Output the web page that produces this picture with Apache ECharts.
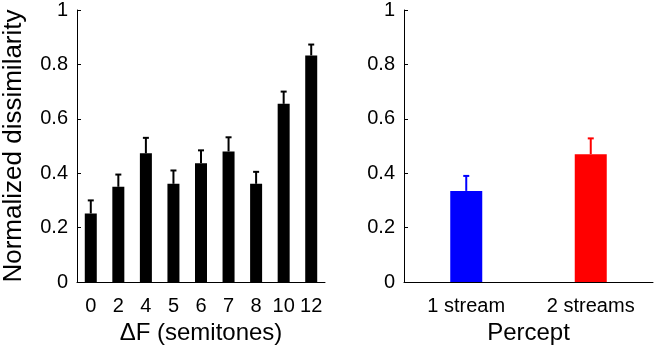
<!DOCTYPE html>
<html>
<head>
<meta charset="utf-8">
<script src="https://cdn.jsdelivr.net/npm/echarts@6/dist/echarts.min.js"></script>
<style>
  html, body { margin: 0; padding: 0; background: #fff; }
  #chart { width: 654px; height: 351px; }
</style>
</head>
<body>
<div id="chart"></div>
<script>
// left panel: dissimilarity per frequency separation
const semitones = ['0', '2', '4', '5', '6', '7', '8', '10', '12']
const dissim = [0.252, 0.35, 0.473, 0.361, 0.437, 0.48, 0.361, 0.655, 0.833]
const dissimErr = [0.048, 0.045, 0.057, 0.049, 0.047, 0.052, 0.044, 0.045, 0.04]

// right panel: by percept
const percepts = ['1 stream', '2 streams']
const perceptVals = [0.335, 0.47]
const perceptErr = [0.055, 0.058]
const perceptColors = ['#0000ff', '#ff0000']

const yTicks = [0, 0.2, 0.4, 0.6, 0.8, 1]

const font = 'Liberation Sans, Arial, sans-serif'

function errorData(vals, errs) {
    return vals.map((v, i) => [i, v, v + errs[i]])
}

function errorBar(colors) {
    return function (params, api) {
        const i = api.value(0)
        const base = api.coord([i, api.value(1)])
        const top = api.coord([i, api.value(2)])
        const color = colors[i % colors.length]
        const style = { stroke: color, lineWidth: 2 }
        return {
            type: 'group',
            children: [
                { type: 'line', shape: { x1: base[0], y1: base[1], x2: top[0], y2: top[1] }, style },
                { type: 'line', shape: { x1: top[0] - 3, y1: top[1], x2: top[0] + 3, y2: top[1] }, style }
            ]
        }
    }
}

function yAxis(gridIndex, name) {
    return {
        type: 'value',
        gridIndex,
        min: 0,
        max: 1,
        interval: 0.2,
        name,
        nameLocation: 'middle',
        nameGap: 50,
        nameTextStyle: { fontFamily: font, fontSize: 26, color: '#000' },
        axisLine: { show: true, lineStyle: { color: '#000', width: 1 } },
        axisTick: { show: true, inside: true, length: 4, lineStyle: { color: '#000' } },
        axisLabel: {
            fontFamily: font, fontSize: 20, color: '#000', margin: 9,
            formatter: v => yTicks.includes(Math.round(v * 10) / 10) ? String(Math.round(v * 10) / 10) : ''
        },
        splitLine: { show: false }
    }
}

function xAxis(gridIndex, data, name) {
    return {
        type: 'category',
        gridIndex,
        data,
        name,
        nameLocation: 'middle',
        nameGap: 38,
        nameTextStyle: { fontFamily: font, fontSize: 24, color: '#000' },
        axisLine: { lineStyle: { color: '#000', width: 1 } },
        axisTick: { show: false },
        axisLabel: { fontFamily: font, fontSize: 20, color: '#000', margin: 14, interval: 0 }
    }
}

const option = {
    animation: false,
    grid: [
        { left: 77, top: 7, width: 248, height: 275 },
        { left: 404, top: 7, width: 249, height: 275 }
    ],
    xAxis: [
        xAxis(0, semitones, 'ΔF (semitones)'),
        xAxis(1, percepts, 'Percept')
    ],
    yAxis: [
        yAxis(0, 'Normalized dissimilarity'),
        yAxis(1, '')
    ],
    series: [
        {
            type: 'bar',
            xAxisIndex: 0,
            yAxisIndex: 0,
            barWidth: 12,
            itemStyle: { color: '#000' },
            data: dissim
        },
        {
            type: 'custom',
            xAxisIndex: 0,
            yAxisIndex: 0,
            renderItem: errorBar(['#000']),
            data: errorData(dissim, dissimErr),
            z: 3
        },
        {
            type: 'bar',
            xAxisIndex: 1,
            yAxisIndex: 1,
            barWidth: 32,
            data: perceptVals.map((v, i) => ({ value: v, itemStyle: { color: perceptColors[i] } }))
        },
        {
            type: 'custom',
            xAxisIndex: 1,
            yAxisIndex: 1,
            renderItem: errorBar(perceptColors),
            data: errorData(perceptVals, perceptErr),
            z: 3
        }
    ]
}

const chart = echarts.init(document.getElementById('chart'))
chart.setOption(option)
</script>
</body>
</html>
